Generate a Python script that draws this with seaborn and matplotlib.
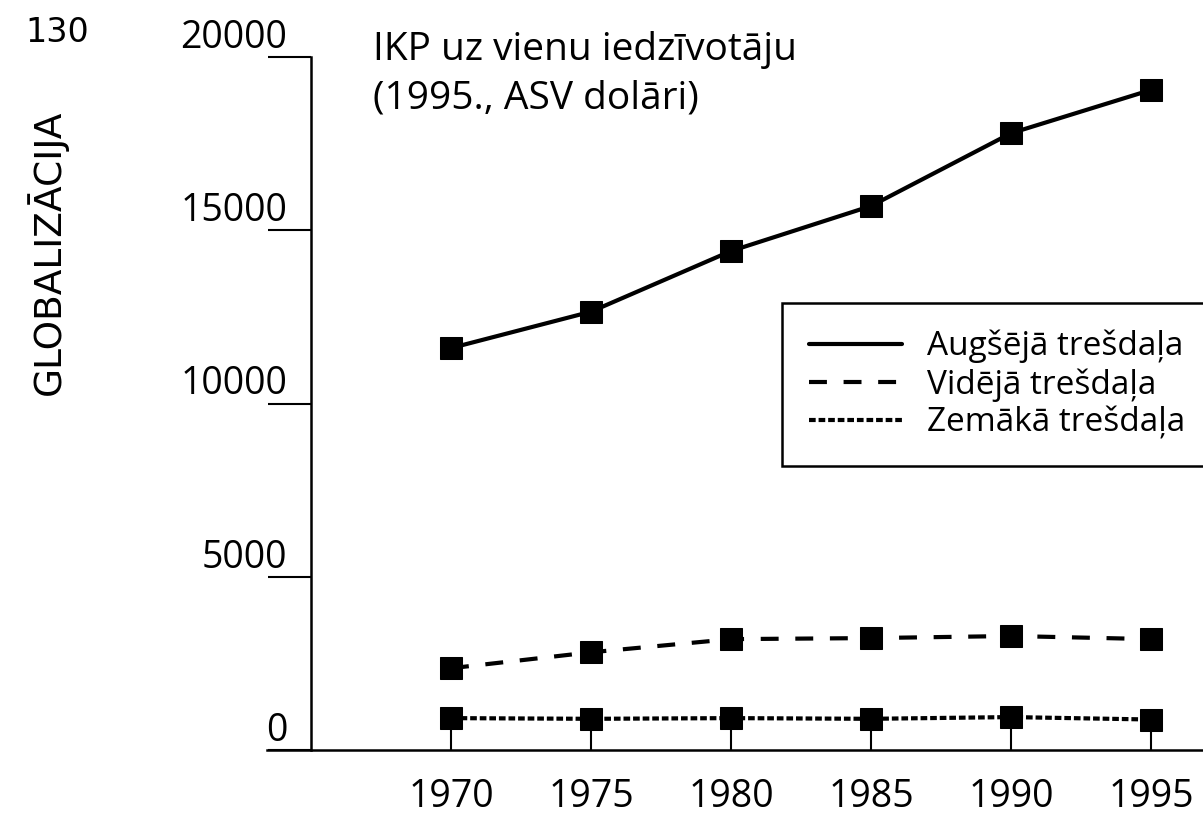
import pandas as pd
import matplotlib.pyplot as plt
import seaborn as sns
from matplotlib.lines import Line2D

# values (GDP per capita, 1995 USD)
years = [1970, 1975, 1980, 1985, 1990, 1995]
upper = [11600, 12650, 14400, 15700, 17800, 19050]
middle = [2360, 2820, 3200, 3230, 3290, 3200]
lower = [920, 900, 920, 900, 950, 880]
groups = ["Augšējā trešdaļa", "Vidējā trešdaļa", "Zemākā trešdaļa"]
y_ticks = [0, 5000, 10000, 15000, 20000]
title_lines = ["IKP uz vienu iedzīvotāju", "(1995., ASV dolāri)"]
page_no = "130"
side_title = "GLOBALIZĀCIJA"

df = pd.DataFrame({
    "year": years * 3,
    "value": upper + middle + lower,
    "group": [g for g in groups for _ in years],
})

sns.set_style("ticks")
plt.rcParams["font.family"] = ["Open Sans", "DejaVu Sans"]
plt.rcParams["text.color"] = "black"

W, H = 1203, 814
fig = plt.figure(figsize=(W / 100, H / 100), dpi=100)
ax = fig.add_axes([267 / W, 64 / H, 1 - 267 / W, 693 / H])

dash_map = {groups[0]: "", groups[1]: (4.3, 4), groups[2]: (1.6, 0.7)}
sns.lineplot(data=df, x="year", y="value", style="group", dashes=dash_map,
             markers={g: "s" for g in groups}, color="black", linewidth=3,
             markersize=16, markeredgecolor="black", errorbar=None,
             legend=False, ax=ax)

ax.set_xlim(1965 - 44 / 28, 1965 + (W - 267 - 44) / 28)
ax.set_ylim(0, 20000)
ax.set_xlabel("")
ax.set_ylabel("")
ax.set_xticks(years)
ax.set_yticks(y_ticks)

for side in ["top", "right"]:
    ax.spines[side].set_visible(False)
ax.spines["left"].set_position(("data", 1965))
ax.spines["left"].set_bounds(0, 20000)
for side in ["left", "bottom"]:
    ax.spines[side].set_color("black")
    ax.spines[side].set_linewidth(1.8)

ax.tick_params(axis="x", direction="in", length=16, width=1.5, pad=20,
               labelsize=27, colors="black")
ax.tick_params(axis="y", direction="out", length=31, width=1.5, pad=-14,
               labelsize=27, colors="black")
for lab in ax.get_yticklabels():
    lab.set_verticalalignment("bottom")

handles = [
    Line2D([], [], color="black", lw=3, linestyle="-"),
    Line2D([], [], color="black", lw=3, dashes=dash_map[groups[1]]),
    Line2D([], [], color="black", lw=3, dashes=dash_map[groups[2]]),
]
leg = ax.legend(handles, groups, loc="upper left",
                bbox_to_anchor=(782 / W, 1 - 303 / H),
                bbox_transform=fig.transFigure, borderaxespad=0,
                fontsize=24, handlelength=2.8, handletextpad=0.75,
                labelspacing=0.15, borderpad=0.8, frameon=True,
                fancybox=False, edgecolor="black", framealpha=1)
leg.get_frame().set_linewidth(1.8)

fig.text(373 / W, 1 - 60 / H, title_lines[0], fontsize=28, va="baseline")
fig.text(373 / W, 1 - 108 / H, title_lines[1], fontsize=28, va="baseline")
fig.text(25 / W, 1 - 42 / H, page_no, fontsize=24, va="baseline",
         family="DejaVu Sans")
fig.text(47 / W, 1 - 252 / H, side_title, rotation=90, ha="center",
         va="center", fontsize=27, family="DejaVu Sans")

fig.savefig("out.png", dpi=100)
